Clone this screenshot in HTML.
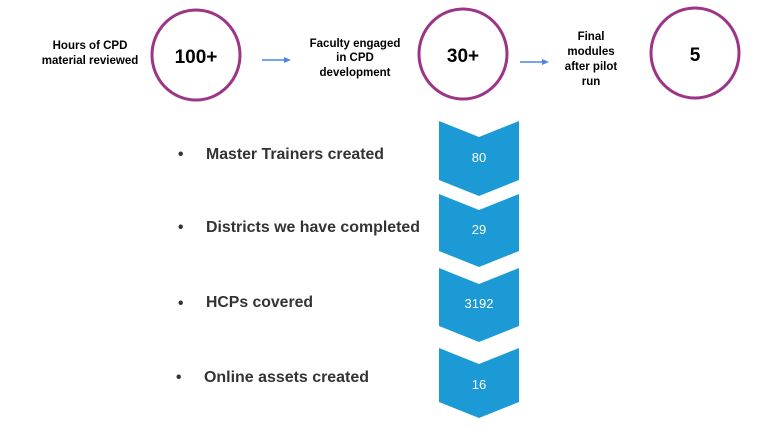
<!DOCTYPE html>
<html><head><meta charset="utf-8"><style>
html,body{margin:0;padding:0;background:#fff;}
svg{display:block;}
text{font-family:"Liberation Sans",Arial,sans-serif;}
</style></head><body>
<svg width="768" height="431" viewBox="0 0 768 431" xmlns="http://www.w3.org/2000/svg">
<g fill="none" stroke="#9c3587" stroke-width="3">
<ellipse cx="196" cy="55" rx="44" ry="45"/>
<ellipse cx="463" cy="54" rx="44" ry="45"/>
<ellipse cx="695" cy="53" rx="44" ry="45"/>
</g>
<g font-weight="bold" fill="#000" text-anchor="middle">
<text x="196" y="63" font-size="19">100+</text>
<text x="463" y="62" font-size="19">30+</text>
<text x="695" y="61" font-size="19">5</text>
<g font-size="11.5">
<text x="90" y="49">Hours of CPD</text>
<text x="90" y="64">material reviewed</text>
<text x="355" y="47">Faculty engaged</text>
<text x="355" y="61">in CPD</text>
<text x="355" y="76">development</text>
<text x="591" y="40">Final</text>
<text x="591" y="55">modules</text>
<text x="591" y="70">after pilot</text>
<text x="591" y="85">run</text>
</g>
</g>
<g stroke="#4a86e8" stroke-width="1.5" fill="#4a86e8">
<line x1="262" y1="60" x2="286" y2="60"/><path d="M284,57 L291,60 L284,63Z" stroke="none"/>
<line x1="520" y1="62" x2="544" y2="62"/><path d="M542,59 L549,62 L542,65Z" stroke="none"/>
</g>
<g fill="#1b9ad6">
<path d="M439,121 L479,137 L519,121 L519,180 L479,196 L439,180Z"/>
<path d="M439,194 L479,210 L519,194 L519,251 L479,267 L439,251Z"/>
<path d="M439,268 L479,284 L519,268 L519,326 L479,342 L439,326Z"/>
<path d="M439,348 L479,364 L519,348 L519,402 L479,418 L439,402Z"/>
</g>
<g fill="#fff" font-size="13" text-anchor="middle">
<text x="479" y="162">80</text>
<text x="479" y="234">29</text>
<text x="479" y="308">3192</text>
<text x="479" y="389">16</text>
</g>
<g fill="#333" font-size="15.5" font-weight="bold">
<text x="178" y="159">•</text><text x="206" y="159" textLength="178" lengthAdjust="spacingAndGlyphs">Master Trainers created</text>
<text x="178" y="232">•</text><text x="206" y="232" textLength="214" lengthAdjust="spacingAndGlyphs">Districts we have completed</text>
<text x="178" y="308">•</text><text x="206" y="307" textLength="107" lengthAdjust="spacingAndGlyphs">HCPs covered</text>
<text x="176" y="382">•</text><text x="204" y="382" textLength="165" lengthAdjust="spacingAndGlyphs">Online assets created</text>
</g>
</svg>
</body></html>
